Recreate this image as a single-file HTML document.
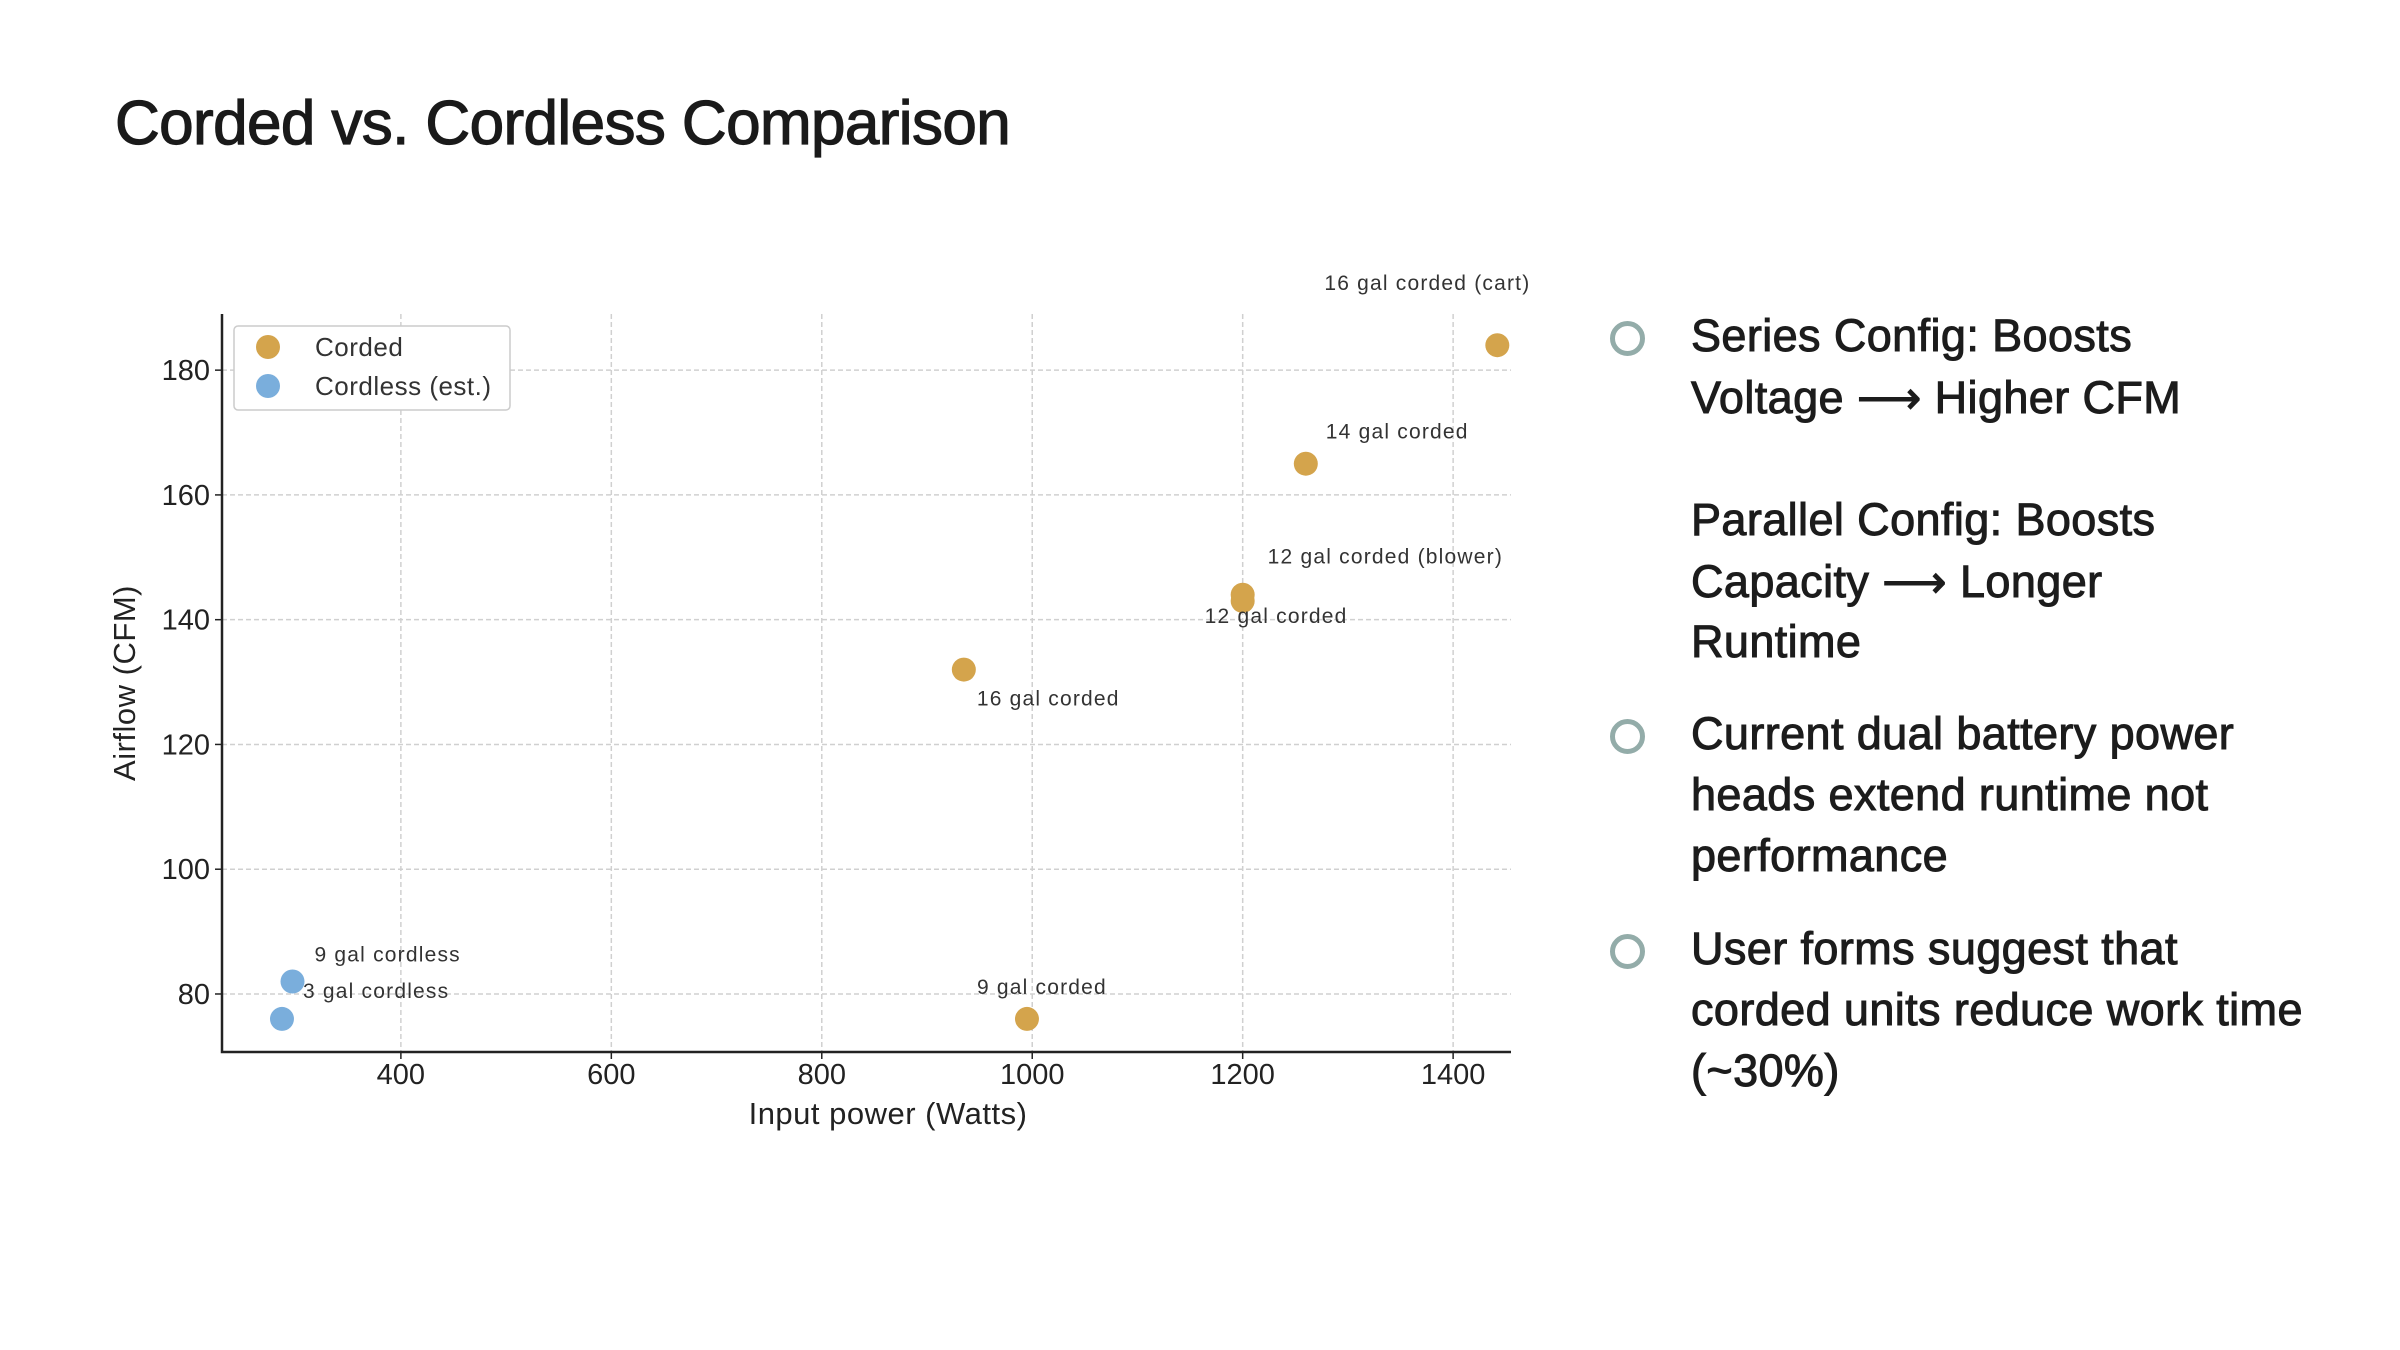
<!DOCTYPE html>
<html><head><meta charset="utf-8"><style>
body{margin:0;background:#fff;width:2400px;height:1350px;overflow:hidden;font-family:"Liberation Sans",sans-serif;}
#title{position:absolute;left:115px;top:88px;font-size:62px;color:#1a1a1a;letter-spacing:-0.6px;margin:0;font-weight:normal;-webkit-text-stroke:1.2px #1a1a1a;}
.ln{position:absolute;left:1691px;font-size:45px;color:#1c1c1c;white-space:nowrap;-webkit-text-stroke:1px #1c1c1c;letter-spacing:0.4px;}
.bul{position:absolute;left:1610px;width:25px;height:25px;border:5px solid #93aca9;border-radius:50%;}
svg{position:absolute;left:0;top:0}
</style></head><body>
<h1 id="title">Corded vs. Cordless Comparison</h1>
<svg id="chart" width="2400" height="1350"></svg>
<div class="bul" style="top:321px"></div>
<div class="ln" style="top:310px">Series Config: Boosts</div>
<div class="ln" style="top:371px">Voltage ⟶ Higher CFM</div>
<div class="ln" style="top:494px">Parallel Config: Boosts</div>
<div class="ln" style="top:555px">Capacity ⟶ Longer</div>
<div class="ln" style="top:616px">Runtime</div>
<div class="bul" style="top:719px"></div>
<div class="ln" style="top:708px">Current dual battery power</div>
<div class="ln" style="top:769px">heads extend runtime not</div>
<div class="ln" style="top:830px">performance</div>
<div class="bul" style="top:934px"></div>
<div class="ln" style="top:923px">User forms suggest that</div>
<div class="ln" style="top:984px">corded units reduce work time</div>
<div class="ln" style="top:1045px">(~30%)</div>
<script>
const cordedW=[1442,1260,1200,1200,935,995];
const cordedCFM=[184,165,144,143,132,76];
const cordedLabels=["16 gal corded (cart)","14 gal corded","12 gal corded (blower)","12 gal corded","16 gal corded","9 gal corded"];
const cordlessW=[297,287];
const cordlessCFM=[82,76];
const cordlessLabels=["9 gal cordless","3 gal cordless"];
const xTicks=[400,600,800,1000,1200,1400];
const yTicks=[80,100,120,140,160,180];
const L=222,R=1511,T=314,B=1052;
const xMin=230,xMax=1455,yMin=70.7,yMax=189;
const sx=v=>L+(v-xMin)/(xMax-xMin)*(R-L);
const sy=v=>B-(v-yMin)/(yMax-yMin)*(B-T);
const svg=document.getElementById('chart');
const NS='http://www.w3.org/2000/svg';
function mk(tag,at,txt){const e=document.createElementNS(NS,tag);for(const k in at)e.setAttribute(k,at[k]);if(txt!=null)e.textContent=txt;svg.appendChild(e);return e;}
xTicks.forEach(v=>{
 const g=mk('line',{x1:sx(v),x2:sx(v),y1:T,y2:B,stroke:'#d0d0d0','stroke-width':1.5,'stroke-dasharray':'5,3'});
 
 
 mk('line',{x1:sx(v),x2:sx(v),y1:B,y2:B+7,stroke:'#222','stroke-width':1.5});
 const t=mk('text',{x:sx(v),y:B+32,'text-anchor':'middle','font-size':29,fill:'#222'},v);
 
 
});
yTicks.forEach(v=>{
 const g=mk('line',{x1:L,x2:R,y1:sy(v),y2:sy(v),stroke:'#d0d0d0','stroke-width':1.5,'stroke-dasharray':'5,3'});
 
 
 mk('line',{x1:L-7,x2:L,y1:sy(v),y2:sy(v),stroke:'#222','stroke-width':1.5});
 const t=mk('text',{x:L-12,y:sy(v)+10,'text-anchor':'end','font-size':29,fill:'#222'},v);
 
 
});
const ax=mk('path',{d:`M${L} ${T} V${B} H${R}`,fill:'none',stroke:'#222','stroke-width':2.5});


const xt=mk('text',{x:888,y:1124,'text-anchor':'middle','font-size':31,fill:'#222','letter-spacing':0.5},'Input power (Watts)');


const yt=mk('text',{x:0,y:0,'text-anchor':'middle','font-size':31,fill:'#222','letter-spacing':0.5,transform:'translate(135,683) rotate(-90)'},'Airflow (CFM)');


const offs=[[-173,-55],[20,-25],[25,-31],[-38,22],[13,36],[-50,-25]];
cordedW.forEach((w,i)=>{
 const c=mk('circle',{cx:sx(w),cy:sy(cordedCFM[i]),r:12,fill:'#d4a44c'});
 
 
 const t=mk('text',{x:sx(w)+offs[i][0],y:sy(cordedCFM[i])+offs[i][1],'font-size':21,fill:'#333','letter-spacing':1.2},cordedLabels[i]);
 
 
});
const offs2=[[22,-20],[21,-21]];
cordlessW.forEach((w,i)=>{
 const c=mk('circle',{cx:sx(w),cy:sy(cordlessCFM[i]),r:12,fill:'#7aaedc'});
 
 
 const t=mk('text',{x:sx(w)+offs2[i][0],y:sy(cordlessCFM[i])+offs2[i][1],'font-size':21,fill:'#333','letter-spacing':1.2},cordlessLabels[i]);
 
 
});
const lg=mk('rect',{x:234,y:326,width:276,height:84,rx:4,fill:'#fff',stroke:'#ccc','stroke-width':1.5});


[['Corded','#d4a44c',347],['Cordless (est.)','#7aaedc',386]].forEach(([n,c,y])=>{
 mk('circle',{cx:268,cy:y,r:12,fill:c});
 const t=mk('text',{x:315,y:y+9,'font-size':26,fill:'#333','letter-spacing':0.5},n);
 
 
});
</script>
</body></html>
